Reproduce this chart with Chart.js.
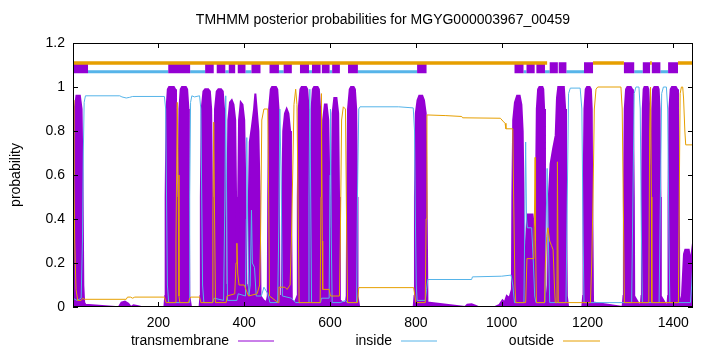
<!DOCTYPE html>
<html><head><meta charset="utf-8">
<script src="https://cdn.jsdelivr.net/npm/chart.js@4.4.1/dist/chart.umd.min.js"></script>
<style>html,body{margin:0;padding:0;background:#fff}canvas{display:block}</style>
</head><body><canvas id="c" width="720" height="352"></canvas>
<script>
const chartTitle = "TMHMM posterior probabilities for MGYG000003967_00459";
const yAxisTitle = "probability";
const seriesNames = ["transmembrane", "inside", "outside"];
const xTickValues = [200, 400, 600, 800, 1000, 1200, 1400];
const yTickValues = [0, 0.2, 0.4, 0.6, 0.8, 1, 1.2];
const xRange = [1, 1446];

const tmPoints = [
  [1,0.02],[2,0.6],[3,0.75],[5,0.9],[9,0.96],[17,0.96],[21,0.9],[23,0.6],[25,0.1],[27,0.02],
  [30,0.01],[100,0],[108,0],[114,0.02],[122,0.025],[130,0.015],[136,0],[142,0.008],[150,0.005],[160,0],[214,0],
  [216,0.05],[217,0.5],[219,0.9],[222,0.99],[225,1.0],[236,1.0],[239,0.99],[241,0.9],[242,0.5],[243,0.05],
  [246,0.05],[247,0.5],[249,0.9],[252,0.99],[255,1.0],[264,1.0],[267,0.99],[270,0.9],[271,0.5],[272,0.05],
  [276,0],[296,0],
  [298,0.05],[299,0.5],[301,0.9],[305,0.98],[309,0.99],[316,0.99],[320,0.98],[323,0.9],[325,0.5],[326,0.05],
  [329,0.05],[330,0.5],[332,0.9],[336,0.98],[340,0.99],[346,0.99],[350,0.98],[353,0.9],[355,0.5],[356,0.05],
  [358,0.04],
  [360,0.1],[361,0.5],[363,0.85],[367,0.93],[371,0.94],[375,0.92],[379,0.85],[381,0.5],[383,0.05],
  [385,0.1],[386,0.5],[388,0.85],[392,0.93],[396,0.92],[400,0.85],[403,0.5],[405,0.05],
  [407,0.05],
  [410,0.1],[411,0.5],[413,0.75],[418,0.82],[423,0.9],[426,0.97],[429,0.9],[433,0.8],[436,0.5],[438,0.05],
  [445,0.03],[452,0.02],
  [455,0.05],[456,0.5],[458,0.9],[462,0.99],[465,1.0],[474,1.0],[477,0.99],[480,0.9],[481,0.5],[482,0.05],
  [488,0.05],[489,0.5],[491,0.8],[495,0.88],[499,0.9],[503,0.88],[507,0.8],[509,0.5],[511,0.03],
  [518,0.02],
  [524,0.05],[525,0.5],[527,0.9],[531,0.99],[534,1.0],[544,1.0],[547,0.99],[550,0.9],[551,0.5],[552,0.05],
  [554,0.05],[555,0.5],[557,0.9],[560,0.99],[563,1.0],[571,1.0],[574,0.99],[577,0.9],[578,0.5],[579,0.05],
  [581,0.05],[582,0.5],[584,0.85],[588,0.92],[592,0.92],[596,0.85],[599,0.5],[600,0.03],
  [603,0.05],[604,0.5],[606,0.88],[610,0.95],[615,0.95],[619,0.88],[621,0.5],[623,0.03],
  [630,0.02],[637,0.02],
  [639,0.05],[640,0.5],[642,0.9],[646,0.99],[649,1.0],[655,1.0],[658,0.99],[661,0.9],[663,0.5],[664,0.05],
  [668,0],[795,0],
  [797,0.05],[798,0.5],[800,0.88],[804,0.94],[808,0.96],[815,0.96],[819,0.94],[823,0.88],[825,0.5],[827,0.02],
  [915,0],[920,0.01],[930,0.012],[940,0.005],[945,0],[985,0],[995,0.01],[1002,0.03],[1007,0.02],[1012,0.05],[1018,0.04],[1024,0.08],
  [1025,0.5],[1027,0.85],[1031,0.93],[1036,0.96],[1042,0.96],[1046,0.92],[1049,0.8],[1051,0.5],[1053,0.1],
  [1055,0.05],[1057,0.3],[1060,0.42],[1072,0.42],[1076,0.35],[1078,0.2],
  [1080,0.5],[1082,0.9],[1085,0.99],[1088,1.0],[1095,1.0],[1097,0.99],[1099,0.9],[1101,0.5],[1102,0.05],
  [1105,0.02],[1108,0.1],[1110,0.5],[1114,0.65],[1120,0.72],[1126,0.78],
  [1129,0.95],[1132,1.0],[1145,1.0],[1148,0.9],[1150,0.5],[1152,0.05],[1155,0],
  [1188,0],
  [1190,0.05],[1191,0.5],[1193,0.9],[1196,0.99],[1199,1.0],[1205,1.0],[1208,0.99],[1210,0.9],[1211,0.5],[1213,0.02],
  [1282,0],
  [1284,0.05],[1285,0.5],[1287,0.9],[1290,0.99],[1293,1.0],[1301,1.0],[1304,0.99],[1306,0.9],[1308,0.5],[1309,0.05],
  [1324,0],
  [1326,0.05],[1327,0.5],[1329,0.9],[1331,0.99],[1333,1.0],[1340,1.0],[1342,0.99],[1344,0.9],[1345,0.5],[1346,0.05],
  [1348,0.05],[1349,0.5],[1351,0.9],[1353,0.99],[1356,1.0],[1364,1.0],[1366,0.99],[1368,0.9],[1370,0.5],[1371,0.05],
  [1386,0],
  [1388,0.05],[1389,0.5],[1391,0.9],[1394,0.99],[1397,1.0],[1406,1.0],[1409,0.99],[1411,0.9],[1413,0.5],[1414,0.05],
  [1419,0],
  [1422,0.12],[1425,0.24],[1428,0.26],[1436,0.26],[1439,0.22],[1442,0.23],[1444,0.26],[1446,0.24]
];

const insidePoints = [
  [1,0.04],[10,0.03],[20,0.04],[23,0.3],[25,0.7],[27,0.93],[30,0.96],[110,0.96],[115,0.955],[125,0.95],[133,0.953],[140,0.957],
  [214,0.957],[217,0.9],[219,0.5],[221,0.1],[224,0.02],[272,0.02],[273,0.5],[275,0.93],[278,0.96],[284,0.955],[296,0.96],
  [299,0.9],[301,0.5],[303,0.1],[306,0.02],[326,0.02],[330,0.04],[352,0.03],[355,0.5],[357,0.96],[359,0.5],[361,0.03],
  [383,0.03],[386,0.06],[403,0.05],[405,0.4],[406,0.77],[408,0.4],[411,0.05],[414,0.1],[417,0.44],[419,0.2],[424,0.18],
  [428,0.05],[440,0.05],[446,0.09],[455,0.06],[460,0.02],[478,0.02],[481,0.4],[483,0.9],[486,0.6],[489,0.05],[510,0.04],
  [520,0.02],[549,0.02],[551,0.5],[553,0.99],[555,0.5],[557,0.02],[578,0.02],[580,0.04],[598,0.04],[600,0.6],[601,0.9],
  [603,0.3],[605,0.02],[624,0.02],[636,0.03],[640,0.02],[662,0.02],[664,0.5],[667,0.9],[670,0.91],[760,0.91],[794,0.905],
  [797,0.8],[799,0.4],[801,0.1],[803,0.03],[822,0.03],[825,0.08],[828,0.125],[930,0.125],[932,0.137],[1000,0.14],
  [1022,0.145],[1026,0.1],[1030,0.02],[1052,0.02],[1054,0.4],[1056,0.75],[1058,0.4],[1060,0.36],[1070,0.36],[1074,0.2],
  [1077,0.05],[1080,0.02],[1101,0.02],[1103,0.3],[1106,0.63],[1109,0.3],[1112,0.02],[1150,0.02],[1153,0.5],[1156,0.97],
  [1160,0.995],[1183,0.995],[1187,0.9],[1190,0.3],[1192,0.02],[1303,0.02],[1306,0.5],[1309,0.97],[1313,1.0],[1320,1.0],
  [1323,0.9],[1326,0.3],[1328,0.02],[1367,0.02],[1370,0.5],[1373,0.97],[1377,1.0],[1384,1.0],[1387,0.9],[1390,0.3],
  [1392,0.02],[1440,0.02],[1443,0.1],[1446,0.22]
];

const outsidePoints = [
  [1,0.94],[3,0.6],[5,0.3],[8,0.08],[12,0.03],[20,0.03],[24,0.04],[27,0.035],[125,0.035],[128,0.045],[135,0.045],[140,0.04],
  [145,0.045],[214,0.045],[218,0.02],[239,0.02],[241,0.3],[244,0.93],[246,0.6],[248,0.05],[250,0.02],[270,0.02],[273,0.04],
  [276,0.045],[296,0.045],[299,0.02],[325,0.02],[327,0.4],[329,0.84],[331,0.4],[333,0.02],[358,0.02],[360,0.05],[378,0.06],
  [381,0.2],[383,0.29],[385,0.15],[388,0.1],[400,0.1],[404,0.08],[410,0.05],[430,0.06],[436,0.1],[438,0.3],[441,0.85],
  [446,0.9],[455,0.9],[457,0.5],[459,0.05],[479,0.02],[481,0.09],[495,0.09],[500,0.08],[507,0.1],[510,0.3],[513,0.6],
  [516,0.92],[520,0.99],[523,0.92],[526,0.4],[528,0.02],[577,0.02],[579,0.5],[580,0.97],[582,0.3],[583,0.08],[598,0.08],
  [601,0.05],[622,0.05],[624,0.3],[627,0.85],[631,0.91],[636,0.9],[639,0.3],[641,0.02],[664,0.02],[667,0.088],[795,0.088],
  [798,0.05],[800,0.02],[822,0.02],[824,0.4],[826,0.873],[870,0.87],[907,0.866],[909,0.86],[997,0.858],[1003,0.845],
  [1008,0.835],[1010,0.81],[1026,0.81],[1028,0.5],[1031,0.1],[1033,0.02],[1056,0.02],[1059,0.22],[1075,0.22],[1077,0.5],
  [1078,0.68],[1079,0.3],[1081,0.02],[1100,0.02],[1102,0.2],[1105,0.32],[1108,0.36],[1112,0.3],[1116,0.28],[1120,0.26],
  [1123,0.1],[1125,0.02],[1129,0.02],[1130,0.66],[1132,0.02],[1207,0.02],[1210,0.2],[1213,0.5],[1216,0.9],[1220,0.99],
  [1224,1.0],[1278,1.0],[1281,0.9],[1284,0.4],[1286,0.02],[1343,0.02],[1345,0.8],[1347,1.0],[1349,0.5],[1350,0.02],
  [1412,0.02],[1414,0.5],[1416,0.97],[1419,1.0],[1422,1.0],[1424,0.95],[1427,0.8],[1429,0.737],[1446,0.737]
];

const tmSegments = [[1,36],[223,274],[309,329],[336,356],[364,379],[385,403],[417,438],[459,481],[492,511],[530,551],[558,578],[581,599],[605,623],[642,665],[803,825],[1030,1051],[1058,1077],[1081,1101],[1112,1131],[1133,1151],[1192,1213],[1285,1309],[1329,1346],[1350,1370],[1388,1411]];
const insideSegments = [[36,223],[274,309],[356,364],[403,417],[481,492],[551,558],[599,605],[665,803],[1051,1058],[1101,1112],[1151,1192],[1309,1329],[1370,1388]];
const outsideSegments = [[1,1106],[1213,1285],[1346,1350],[1411,1446]];
const topLevels = { outside: 1.109, tm: 1.088, inside: 1.069 };

const colors = { tm: '#9400D3', inside: '#56B4E9', outside: '#E69F00' };
const FONT = '"Liberation Sans", Arial, sans-serif';

const toXY = pts => pts.map(([x, y]) => ({ x, y }));
const segData = (segs, level) => {
  const out = [];
  segs.forEach(([a, b]) => { out.push({ x: a, y: level }, { x: b, y: level }, { x: b, y: null }); });
  return out;
};

const decor = {
  id: 'decor',
  afterDraw(chart) {
    const { ctx, chartArea: a, scales: { x, y } } = chart;
    ctx.save();
    ctx.strokeStyle = '#000';
    ctx.lineWidth = 1;
    ctx.beginPath();
    xTickValues.forEach(v => {
      const px = Math.round(x.getPixelForValue(v)) + 0.5;
      ctx.moveTo(px, a.bottom); ctx.lineTo(px, a.bottom - 5);
      ctx.moveTo(px, a.top); ctx.lineTo(px, a.top + 5);
    });
    yTickValues.forEach(v => {
      const py = Math.round(y.getPixelForValue(v)) + 0.5;
      ctx.moveTo(a.left, py); ctx.lineTo(a.left + 5, py);
      ctx.moveTo(a.right, py); ctx.lineTo(a.right - 5, py);
    });
    ctx.stroke();
    ctx.strokeRect(a.left + 0.5, a.top + 0.5, a.right - a.left - 1, a.bottom - a.top - 1);

    ctx.fillStyle = '#000';
    ctx.font = '14px ' + FONT;
    ctx.textAlign = 'center';
    ctx.textBaseline = 'middle';
    ctx.fillText(chartTitle, (a.left + a.right) / 2, 20);

    ctx.save();
    ctx.translate(16, (a.top + a.bottom) / 2);
    ctx.rotate(-Math.PI / 2);
    ctx.fillText(yAxisTitle, 0, 0);
    ctx.restore();

    const legendPos = [[229, 238, 274], [392, 401, 437], [554, 563, 600]];
    const ds = chart.data.datasets;
    ctx.textAlign = 'right';
    for (let i = 0; i < 3; i++) {
      const [tr, l0, l1] = legendPos[i];
      ctx.fillStyle = '#000';
      ctx.fillText(ds[i].label, tr, 341);
      ctx.save();
      ctx.strokeStyle = ds[i].borderColor;
      ctx.lineWidth = 1;
      ctx.beginPath();
      ctx.moveTo(l0, 341); ctx.lineTo(l1, 341);
      ctx.stroke();
      ctx.restore();
    }
    ctx.restore();
  }
};

new Chart(document.getElementById('c'), {
  type: 'line',
  data: {
    datasets: [
      { label: seriesNames[0], data: toXY(tmPoints), borderColor: colors.tm, backgroundColor: colors.tm, borderWidth: 2, fill: 'origin', pointRadius: 0, order: 5 },
      { label: seriesNames[1], data: toXY(insidePoints), borderColor: colors.inside, borderWidth: 1, fill: false, pointRadius: 0, order: 4 },
      { label: seriesNames[2], data: toXY(outsidePoints), borderColor: colors.outside, borderWidth: 1, fill: false, pointRadius: 0, order: 3 },
      { label: 'insideTop', data: segData(insideSegments, topLevels.inside), borderColor: colors.inside, borderWidth: 3, borderCapStyle: 'butt', fill: false, pointRadius: 0, order: 2 },
      { label: 'tmTop', data: segData(tmSegments, topLevels.tm), borderColor: colors.tm, borderWidth: 11, borderCapStyle: 'butt', fill: false, pointRadius: 0, order: 1 },
      { label: 'outsideTop', data: segData(outsideSegments, topLevels.outside), borderColor: colors.outside, borderWidth: 3.5, borderCapStyle: 'butt', fill: false, pointRadius: 0, order: 0 }
    ]
  },
  options: {
    responsive: false,
    devicePixelRatio: 1,
    animation: false,
    spanGaps: false,
    layout: { padding: { top: 43, right: 27, left: 0, bottom: 0 } },
    plugins: { legend: { display: false }, title: { display: false }, tooltip: { enabled: false } },
    elements: { line: { tension: 0 } },
    scales: {
      x: {
        type: 'linear', min: xRange[0], max: xRange[1],
        grid: { display: false, drawTicks: false }, border: { display: false },
        afterBuildTicks: s => { s.ticks = xTickValues.map(v => ({ value: v })); },
        afterFit: s => { s.height = 45; },
        ticks: { autoSkip: false, maxRotation: 0, padding: 8, color: '#000', font: { family: FONT, size: 14 }, callback: v => String(v) }
      },
      y: {
        type: 'linear', min: 0, max: 1.2,
        grid: { display: false, drawTicks: false }, border: { display: false },
        afterBuildTicks: s => { s.ticks = yTickValues.map(v => ({ value: v })); },
        afterFit: s => { s.width = 73; },
        ticks: { autoSkip: false, padding: 8, color: '#000', font: { family: FONT, size: 14 }, callback: v => String(Math.round(v * 10) / 10) }
      }
    }
  },
  plugins: [decor]
});
</script>
</body></html>
